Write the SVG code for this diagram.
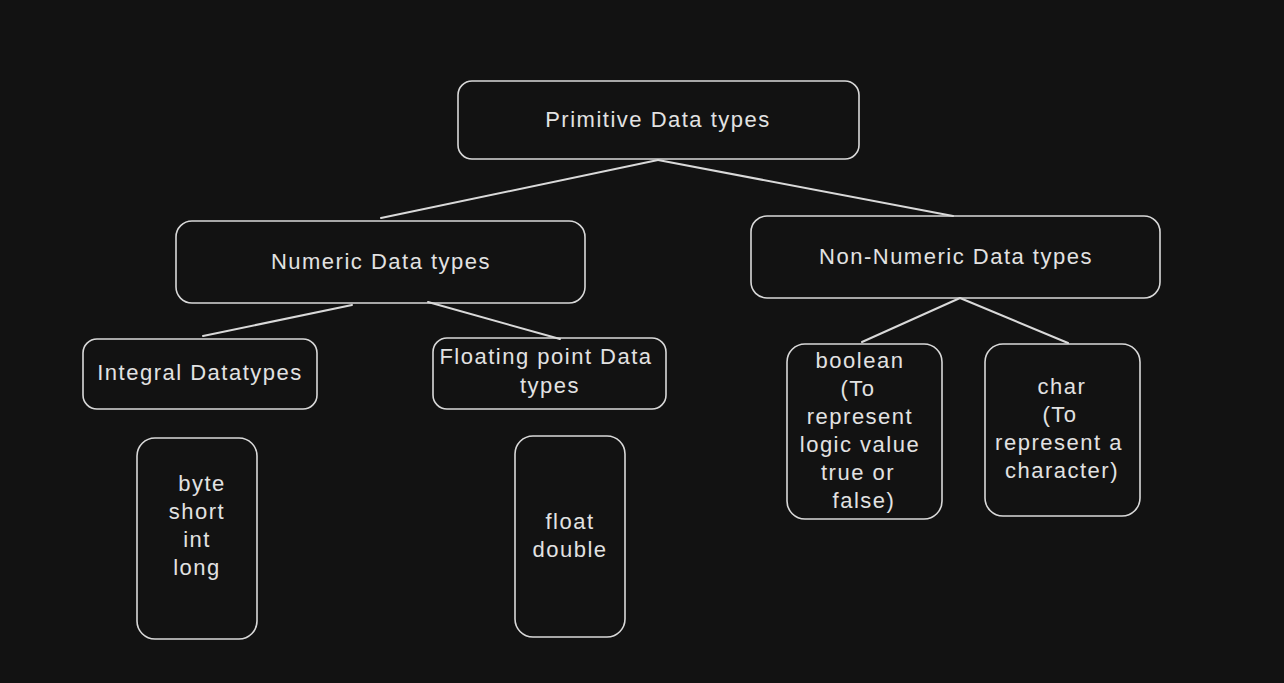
<svg xmlns="http://www.w3.org/2000/svg" width="1284" height="683" viewBox="0 0 1284 683">
<style>
.box{fill:none;stroke:#d9d9d9;stroke-width:1.6}
.t{font-family:"Liberation Sans",Arial,sans-serif;font-size:22px;fill:#e2e2e2;text-anchor:middle;letter-spacing:1.5px}
.c{stroke:#d9d9d9;stroke-width:2;fill:none;stroke-linecap:round}
</style>
<rect x="0" y="0" width="1284" height="683" fill="#121212"/>
<g id="connectors">
<line class="c" x1="658" y1="160" x2="381" y2="218"/>
<line class="c" x1="658" y1="160" x2="953" y2="216"/>
<line class="c" x1="352" y1="305" x2="203" y2="336"/>
<line class="c" x1="428" y1="302" x2="560" y2="339"/>
<line class="c" x1="960" y1="298" x2="862" y2="342"/>
<line class="c" x1="960" y1="298" x2="1068" y2="343"/>
</g>
<g id="primitive">
<rect class="box" x="458" y="81" width="401" height="78" rx="14"/>
<text class="t" x="658" y="127">Primitive Data types</text>
</g>
<g id="numeric">
<rect class="box" x="176" y="221" width="409" height="82" rx="16"/>
<text class="t" x="381" y="269">Numeric Data types</text>
</g>
<g id="nonnumeric">
<rect class="box" x="751" y="216" width="409" height="82" rx="16"/>
<text class="t" x="956" y="264">Non-Numeric Data types</text>
</g>
<g id="integral">
<rect class="box" x="83" y="339" width="234" height="70" rx="14"/>
<text class="t" x="200" y="380">Integral Datatypes</text>
</g>
<g id="floating">
<rect class="box" x="433" y="338" width="233" height="71" rx="14"/>
<text class="t" x="546" y="364">Floating point Data</text>
<text class="t" x="550" y="393">types</text>
</g>
<g id="boolean">
<rect class="box" x="787" y="344" width="155" height="175" rx="18"/>
<text class="t" x="860" y="368">boolean</text>
<text class="t" x="858" y="396">(To</text>
<text class="t" x="860" y="424">represent</text>
<text class="t" x="860" y="452">logic value</text>
<text class="t" x="858" y="480">true or</text>
<text class="t" x="864" y="508">false)</text>
</g>
<g id="char">
<rect class="box" x="985" y="344" width="155" height="172" rx="18"/>
<text class="t" x="1062" y="394">char</text>
<text class="t" x="1060" y="422">(To</text>
<text class="t" x="1059" y="450">represent a</text>
<text class="t" x="1062" y="478">character)</text>
</g>
<g id="integers">
<rect class="box" x="137" y="438" width="120" height="201" rx="18"/>
<text class="t" x="202" y="491">byte</text>
<text class="t" x="197" y="519">short</text>
<text class="t" x="197" y="547">int</text>
<text class="t" x="197" y="575">long</text>
</g>
<g id="floats">
<rect class="box" x="515" y="436" width="110" height="201" rx="18"/>
<text class="t" x="570" y="529">float</text>
<text class="t" x="570" y="557">double</text>
</g>
</svg>
